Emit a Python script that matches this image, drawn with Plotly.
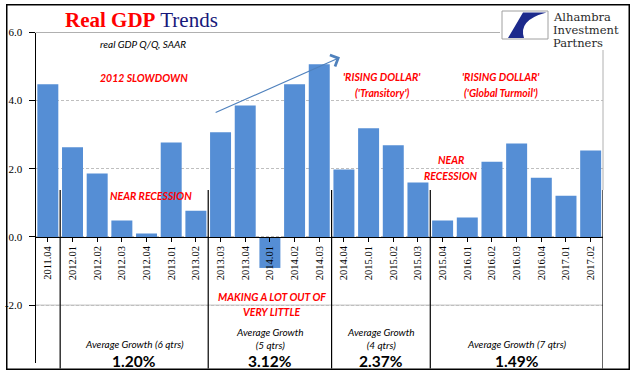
import plotly.graph_objects as go

# ---------------- data ----------------
quarters = ["2011.04",
            "2012.01", "2012.02", "2012.03", "2012.04",
            "2013.01", "2013.02", "2013.03", "2013.04",
            "2014.01", "2014.02", "2014.03", "2014.04",
            "2015.01", "2015.02", "2015.03", "2015.04",
            "2016.01", "2016.02", "2016.03", "2016.04",
            "2017.01", "2017.02"]
gdp_growth = [4.48,
              2.63, 1.86, 0.48, 0.10,
              2.77, 0.77, 3.07, 3.86,
              -0.91, 4.48, 5.07, 1.98,
              3.19, 2.69, 1.60, 0.48,
              0.57, 2.21, 2.74, 1.74,
              1.21, 2.54]
y_ticks = [-2, 0, 2, 4, 6]
group_breaks = [0.5, 6.5, 11.5, 15.5, 22.5]          # category boundaries of the periods
group_labels = ["Average Growth (6 qtrs)", "Average Growth<br>(5 qtrs)",
                "Average Growth<br>(4 qtrs)", "Average Growth (7 qtrs)"]
group_avgs = ["1.20%", "3.12%", "2.37%", "1.49%"]

# ---------------- geometry (paper = whole figure) ----------------
W, H = 641, 375
PL, PR, PT, PB = 35.5, 603, 32.5, 363      # plot-area edges in pixels
YMIN, YMAX = -3.7, 6.0


def px(x):
    return x / W


def py(y):
    return 1 - y / H


XDOM = [px(PL), px(PR)]
YDOM = [py(PB), py(PT)]

BLUE = "#558ED5"
RED = "#FF0000"
fig = go.Figure()
fig.add_trace(go.Bar(x=list(range(len(quarters))), y=gdp_growth,
                     marker=dict(color=BLUE, line=dict(width=0)),
                     hoverinfo="skip"))

fig.update_layout(
    width=W, height=H,
    margin=dict(l=0, r=0, t=0, b=0, pad=0, autoexpand=False),
    paper_bgcolor="white", plot_bgcolor="rgba(0,0,0,0)",
    showlegend=False, bargap=0.15,
    xaxis=dict(
        domain=XDOM,
        tickmode="array", tickvals=list(range(len(quarters))), ticktext=quarters,
        range=[-0.5, len(quarters) - 0.5], automargin=False,
        anchor="free",
        position=YDOM[0] + (0 - YMIN) / (YMAX - YMIN) * (YDOM[1] - YDOM[0]),
        showline=True, linecolor="black", linewidth=1,
        ticks="outside", tickson="boundaries", ticklen=4, tickcolor="black",
        tickangle=-90, tickfont=dict(family="Liberation Serif", size=10.5, color="black"),
        showgrid=False, zeroline=False, fixedrange=True,
    ),
    yaxis=dict(
        domain=YDOM,
        range=[YMIN, YMAX], tickvals=y_ticks, automargin=False,
        ticktext=[f"{v:.1f}" for v in y_ticks],
        showline=True, linecolor="black", linewidth=1,
        ticks="outside", ticklen=6, tickcolor="black", ticklabelstandoff=4,
        tickfont=dict(family="Liberation Serif", size=11, color="black"),
        showgrid=True, gridcolor="#BFBFBF", griddash="3px,2px", gridwidth=1,
        zeroline=False, fixedrange=True,
    ),
)

shapes = []
# outer frame: black slab with a white slab inset (both beneath the chart)
shapes.append(dict(type="rect", xref="paper", yref="paper", layer="below",
                   x0=px(6), x1=px(630), y0=py(370), y1=py(4),
                   line=dict(width=0), fillcolor="black"))
shapes.append(dict(type="rect", xref="paper", yref="paper", layer="below",
                   x0=px(7.5), x1=px(628.5), y0=py(368.5), y1=py(5.5),
                   line=dict(width=0), fillcolor="white"))
# plot area border (top & right, gray)
shapes.append(dict(type="line", xref="paper", yref="paper", x0=XDOM[0], x1=XDOM[1],
                   y0=YDOM[1], y1=YDOM[1], line=dict(color="#B0B0B0", width=1)))
shapes.append(dict(type="line", xref="paper", yref="paper", x0=XDOM[1], x1=XDOM[1],
                   y0=py(190), y1=YDOM[1], line=dict(color="#B0B0B0", width=1)))
# solid gridline for negative tick
shapes.append(dict(type="line", xref="paper", yref="y", x0=XDOM[0], x1=XDOM[1], y0=-2, y1=-2,
                   line=dict(color="#BFBFBF", width=1), layer="below"))
# period separators
for b in group_breaks:
    shapes.append(dict(type="line", xref="x", yref="paper", x0=b, x1=b,
                       y0=py(368.5), y1=py(190), line=dict(color="black", width=1.2)))
# logo background and icon
shapes.append(dict(type="rect", xref="paper", yref="paper",
                   x0=px(500), x1=px(627.5), y0=py(50), y1=py(6.5),
                   line=dict(width=0), fillcolor="white"))
shapes.append(dict(type="rect", xref="paper", yref="paper",
                   x0=px(502), x1=px(548), y0=py(39), y1=py(11),
                   line=dict(color="#A0A0A0", width=1), fillcolor="white"))
path = (f"M{px(523)},{py(12.5)} L{px(546.5)},{py(12.5)} "
        f"Q{px(518)},{py(20)} {px(524)},{py(38)} L{px(508)},{py(38)} Z")
shapes.append(dict(type="path", xref="paper", yref="paper", path=path,
                   fillcolor="#1C2A8C", line=dict(width=0)))
fig.update_layout(shapes=shapes)

ann = []


def txt(x, y, text, size, color="black", family="Lato", xanchor="center", **kw):
    ann.append(dict(x=px(x), y=py(y), xref="paper", yref="paper", text=text,
                    showarrow=False, xanchor=xanchor, yanchor="middle",
                    font=dict(family=family, size=size, color=color), **kw))


# title
txt(63, 20, "<b><span style='color:#FF0000'>Real GDP</span></b> "
            "<span style='color:#17187A'>Trends</span>", 21, family="Liberation Serif",
    xanchor="left")
txt(143, 43.5, "<i>real GDP Q/Q, SAAR</i>", 10)
# logo text
txt(551, 17, "Alhambra", 11.5, color="#2A2A2A", family="DejaVu Serif", xanchor="left")
txt(551, 30, "Investment", 11.5, color="#2A2A2A", family="DejaVu Serif", xanchor="left")
txt(551, 43, "Partners", 11.5, color="#2A2A2A", family="DejaVu Serif", xanchor="left")

# red commentary
red = dict(size=10.5, color=RED)
txt(143.5, 77.5, "<b><i>2012 SLOWDOWN</i></b>", **red)
txt(150.5, 196, "<b><i>NEAR RECESSION</i></b>", **red)
txt(382, 77, "<b><i>'RISING DOLLAR'</i></b>", **red)
txt(382, 92.5, "<b><i>('Transitory')</i></b>", **red)
txt(500.5, 77, "<b><i>'RISING DOLLAR'</i></b>", **red)
txt(500.5, 93, "<b><i>('Global Turmoil')</i></b>", **red)
txt(451, 160, "<b><i>NEAR</i></b>", **red)
txt(451, 176, "<b><i>RECESSION</i></b>", **red)
txt(271.5, 297, "<b><i>MAKING A LOT OUT OF</i></b>", **red)
txt(271.5, 312, "<b><i>VERY LITTLE</i></b>", **red)

# period averages
for i, (lab, avg) in enumerate(zip(group_labels, group_avgs)):
    c = (group_breaks[i] + group_breaks[i + 1]) / 2
    ymid = 344 if "<br>" not in lab else 338
    ann.append(dict(x=c, y=py(ymid), xref="x", yref="paper", text=f"<i>{lab}</i>",
                    showarrow=False, xanchor="center", yanchor="middle",
                    font=dict(family="Lato", size=10, color="black")))
    ann.append(dict(x=c, y=py(361), xref="x", yref="paper", text=f"<b>{avg}</b>",
                    showarrow=False, xanchor="center", yanchor="middle",
                    font=dict(family="Lato", size=15.5, color="black")))

# trend arrow
ann.append(dict(x=11.84, y=5.27, ax=6.74, ay=3.63, xref="x", yref="y",
                axref="x", ayref="y", text="", showarrow=True,
                arrowhead=4, arrowsize=2.2, arrowwidth=1.1, arrowcolor="#4F81BD"))

fig.update_layout(annotations=ann)
fig.write_html("out.html", config={"displayModeBar": False},
               post_script="document.body.style.margin='0';document.body.style.padding='0';")
